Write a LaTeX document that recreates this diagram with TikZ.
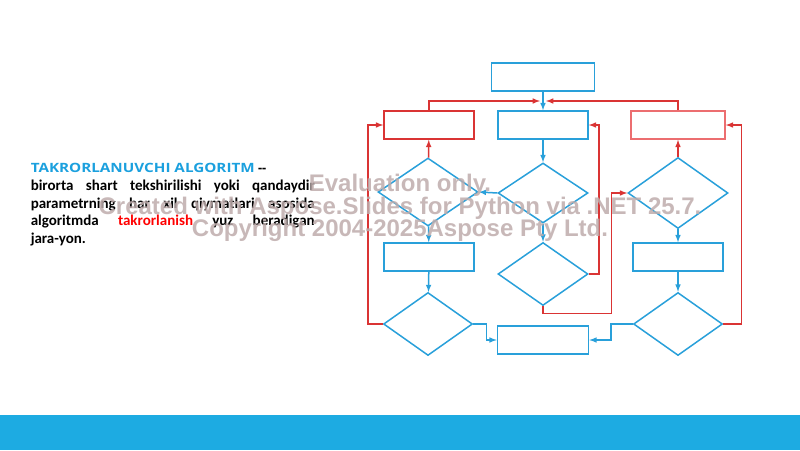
\documentclass[tikz,border=0pt]{standalone}
\usepackage{fontspec}
\usepackage{xcolor}
\usepackage{graphicx}
\usepackage{tikz}
\usetikzlibrary{arrows,calc,positioning,shapes.geometric}
\newfontfamily\carlito{Carlito}
\newfontfamily\opensans{Open Sans}
\newfontfamily\wmfont{Liberation Sans}
\definecolor{flowblue}{RGB}{41,160,218}
\definecolor{flowred}{RGB}{218,52,52}
\definecolor{paleRed}{RGB}{236,110,112}
\definecolor{titleBlue}{RGB}{27,160,222}
\definecolor{bandBlue}{RGB}{29,171,226}
\definecolor{wmGray}{RGB}{190,172,172}

\begin{document}
\begin{tikzpicture}[x=1pt,y=-1pt,>=latex,
	every path/.style={line width=1.5pt},
	procbox/.style={draw=flowblue,rectangle,inner sep=0,minimum width=90,minimum height=28},
	loopbox/.style={procbox,draw=flowred},
	testdia/.style={draw=flowblue,diamond,inner sep=0},
	flow/.style={draw=flowblue,->},
	back/.style={draw=flowred,->},
	wmark/.style={text=wmGray,opacity=0.85,font=\wmfont\bfseries\fontsize{24}{24}\selectfont,inner sep=0}]
	\useasboundingbox (0,0) rectangle (800,450);
	\fill[bandBlue] (0,415) rectangle (800,450);

	% text block
	\node[anchor=base west,inner sep=0,font=\opensans\bfseries\fontsize{12.8}{14}\selectfont] (title) at (30,172)
		{\resizebox{224pt}{\height}{\color{titleBlue}TAKRORLANUVCHI ALGORITM}\ --};
	\node[anchor=base west,inner sep=0,text width=284,align=justify,font=\carlito\bfseries\fontsize{15}{17.6}\selectfont] (desc) at (30,190.5)
		{birorta shart tekshirilishi yoki qandaydir\linebreak
		parametrning har xil qiymatlari asosida\linebreak
		algoritmda {\color{red}takrorlanish} yuz beradigan\linebreak
		jara-yon.};

	% flowchart
	\node[procbox,minimum width=103] (start) at (543,77) {};
	\node[loopbox] (lbox) at (429,125) {};
	\node[procbox] (mbox) at (543,125) {};
	\node[loopbox,draw=paleRed,minimum width=94] (rbox) at (678,125) {};

	\node[testdia,minimum width=100,minimum height=68] (ltest) at (428,192) {};
	\node[testdia,minimum width=90,minimum height=60] (mtest) at (543,193) {};
	\node[testdia,minimum width=100,minimum height=71] (rtest) at (678,193) {};

	\node[procbox] (lbody) at (429,257) {};
	\node[testdia,minimum width=90,minimum height=63] (mcheck) at (543,274) {};
	\node[procbox] (rbody) at (678,257) {};

	\node[testdia,minimum width=89,minimum height=63] (lcheck) at (428,324) {};
	\node[testdia,minimum width=89,minimum height=63] (rcheck) at (678,324) {};
	\node[procbox,minimum width=91] (finish) at (543,340) {};

	\coordinate (hub) at (543,101);

	\draw[flow] (start) -- (mbox);
	\draw[flow] (mbox) -- (mtest);
	\draw[flow] (mtest.west) -- (ltest.east);
	\draw[flow] (mtest) -- (mcheck);
	\draw[flow] (ltest) -- (lbody);
	\draw[flow] (lbody) -- (lcheck);
	\draw[flow] (rtest) -- (rbody);
	\draw[flow] (rbody) -- (rcheck);
	\draw[flow] (lcheck.east) -- ++(13,0) |- (finish.west);
	\draw[flow] (rcheck.west) -- ++(-22,0) |- (finish.east);

	\draw[back] (lbox.north) |- ([xshift=-3]hub);
	\draw[back] (rbox.north) |- ([xshift=3]hub);
	\draw[back] (ltest) -- (lbox);
	\draw[back] (rtest) -- (rbox);
	\draw[back] (lcheck.west) -- ++(-15,0) |- (lbox.west);
	\draw[back] (mcheck.east) -- ++(10,0) |- (mbox.east);
	\draw[back] (mcheck.south) -- ++(0,7) -| ([xshift=-16]rtest.west) -- (rtest.west);
	\draw[back] (rcheck.east) -- ++(18,0) |- (rbox.east);

	% watermark
	\node[wmark,anchor=base] (wm1) at (400,191) {Evaluation only.};
	\node[wmark,anchor=base] (wm2) at (400,214) {Created with Aspose.Slides for Python via .NET 25.7.};
	\node[wmark,anchor=base] (wm3) at (400,236) {Copyright 2004-2025Aspose Pty Ltd.};
\end{tikzpicture}
\end{document}
